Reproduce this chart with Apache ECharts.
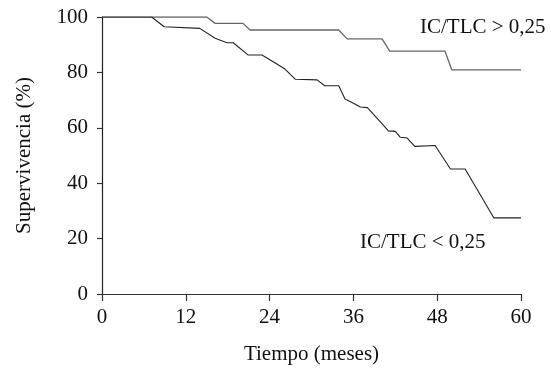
<!DOCTYPE html>
<html>
<head>
<meta charset="utf-8">
<script src="https://cdn.jsdelivr.net/npm/echarts@6/dist/echarts.min.js"></script>
<style>html,body{margin:0;padding:0;background:#fff;}#c{width:551px;height:370px;}</style>
</head>
<body>
<div id="c"></div>
<script>
const xTicks = [0, 12, 24, 36, 48, 60];
const yTicks = [0, 20, 40, 60, 80, 100];
const timeHigh = [0, 15.0, 16.2, 20.2, 21.2, 33.9, 35.1, 40.1, 41.2, 49.1, 50.1, 60];
const survHigh = [100, 100, 97.7, 97.7, 95.3, 95.3, 92.1, 92.1, 87.7, 87.7, 80.9, 80.9];
const timeLow = [0, 7.1, 8.9, 14.0, 16.2, 17.9, 18.8, 20.9, 22.9, 24.1, 26.2, 27.7, 30.8, 31.9, 33.9, 34.8, 36.0, 37.0, 38.0, 39.8, 41.0, 42.0, 42.7, 43.7, 44.8, 47.7, 49.9, 52.0, 56.1, 60];
const survLow = [100, 100, 96.5, 95.9, 92.3, 90.7, 90.7, 86.3, 86.3, 84.5, 81.2, 77.5, 77.3, 75.2, 75.2, 70.4, 68.9, 67.5, 67.3, 62.3, 58.9, 58.7, 56.6, 56.3, 53.3, 53.6, 45.1, 45.1, 27.5, 27.5];
const labelHigh = 'IC/TLC > 0,25';
const labelLow = 'IC/TLC < 0,25';
const xTitle = 'Tiempo (meses)';
const yTitle = 'Supervivencia (%)';

const font = '"Liberation Serif", "Times New Roman", serif';
const chart = echarts.init(document.getElementById('c'));
chart.setOption({
  animation: false,
  backgroundColor: '#fff',
  grid: {left: 102, top: 17, right: 30, bottom: 75.5, containLabel: false},
  xAxis: {
    type: 'value', min: xTicks[0], max: xTicks[xTicks.length-1], interval: 12,
    name: xTitle, nameLocation: 'middle', nameGap: 50,
    nameTextStyle: {fontFamily: font, fontSize: 21, color: '#111'},
    axisLine: {show: true, onZero: false, lineStyle: {color: '#333', width: 1.2}},
    axisTick: {show: true, inside: false, length: 7, lineStyle: {color: '#333', width: 1.2}},
    axisLabel: {fontFamily: font, fontSize: 21, color: '#111', margin: 13},
    splitLine: {show: false}
  },
  yAxis: {
    type: 'value', min: yTicks[0], max: yTicks[yTicks.length-1], interval: 20,
    name: yTitle, nameLocation: 'middle', nameGap: 67, nameRotate: 90,
    nameTextStyle: {fontFamily: font, fontSize: 21, color: '#111'},
    axisLine: {show: true, onZero: false, lineStyle: {color: '#222', width: 1.2}},
    axisTick: {show: true, inside: false, length: 5, lineStyle: {color: '#333', width: 1.2}},
    axisLabel: {fontFamily: font, fontSize: 21, color: '#111', margin: 14},
    splitLine: {show: false}
  },
  series: [
    {type: 'line', data: timeHigh.map((t, i) => [t, survHigh[i]]), showSymbol: false,
     lineStyle: {color: '#666', width: 1.3}, z: 3},
    {type: 'line', data: timeLow.map((t, i) => [t, survLow[i]]), showSymbol: false,
     lineStyle: {color: '#222', width: 1.1}, z: 4}
  ],
  graphic: [
    {type: 'text', left: 420, top: 17, style: {text: labelHigh, font: '21px ' + font, fill: '#111'}},
    {type: 'text', left: 360, top: 232, style: {text: labelLow, font: '21px ' + font, fill: '#111'}}
  ]
});
</script>
</body>
</html>
